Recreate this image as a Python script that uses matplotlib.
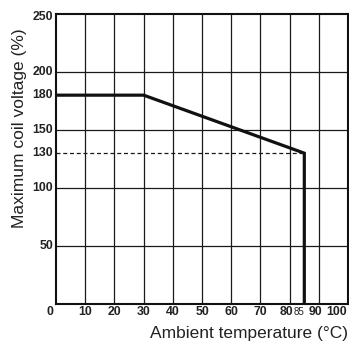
import matplotlib.pyplot as plt
from matplotlib.transforms import offset_copy

plt.rcParams['font.family'] = ['Liberation Sans', 'DejaVu Sans']

# derating curve
temp = [0, 30, 85, 85]
voltage = [180, 180, 130, 0]

x_ticks = [10, 20, 30, 40, 50, 60, 70, 80, 85, 90, 100]
x_grid = [10, 20, 30, 40, 50, 60, 70, 80, 90]
y_ticks = [50, 100, 130, 150, 180, 200, 250]
y_grid = [50, 100, 150, 200]

fig = plt.figure(figsize=(3.49, 3.45), dpi=100)
ax = fig.add_axes([0.1605, 0.119, 0.837, 0.8405])

for gx in x_grid:
    ax.axvline(gx, color='#1a1a1a', lw=0.9, zorder=1)
for gy in y_grid:
    ax.axhline(gy, color='#1a1a1a', lw=0.9, zorder=1)

# dashed reference at 130 %
ax.plot([0, 85], [130, 130], color='#1a1a1a', lw=0.9, dashes=(3.2, 2.2), zorder=2)
ax.plot(temp, voltage, color='#111111', lw=2.3, solid_joinstyle='miter', zorder=3)

ax.set_xlim(0, 100)
ax.set_ylim(0, 250)
for s in ax.spines.values():
    s.set_linewidth(1.5)
    s.set_color('#111111')

tick_font = dict(fontweight='bold', fontsize=8.8, color='#222222')

ax.set_xticks(x_ticks)
ax.set_xticklabels([])
ax.set_yticks([])
ax.tick_params(length=0)

# y tick labels (250 sits a little below the top edge)
ytrans = ax.get_yaxis_transform()
for t in y_ticks:
    dy = -3 if t == 250 else 0
    tr = offset_copy(ytrans, fig=fig, x=-3, y=dy, units='dots')
    ax.text(0, t, str(t), transform=tr, ha='right', va='center', **tick_font)

# x tick labels drawn by hand so the crowded ones near 85 can be nudged
nudge = {80: -3.5, 85: -5.5, 90: -3, 100: -12}
xtrans = ax.get_xaxis_transform()
for t in x_ticks:
    tr = offset_copy(xtrans, fig=fig, x=nudge.get(t, 0), y=-8.5, units='dots')
    if t == 85:
        ax.text(t, 0, str(t), transform=tr, ha='center', va='center',
                fontsize=7, color='#222222')
    else:
        ax.text(t, 0, str(t), transform=tr, ha='center', va='center', **tick_font)

# shared origin label
ax.text(0, 0, '0', transform=offset_copy(xtrans, fig=fig, x=-6.5, y=-8.5, units='dots'),
        ha='center', va='center', **tick_font)

ax.set_ylabel('Maximum coil voltage (%)', fontsize=12.5, color='#222222')
ax.yaxis.set_label_coords(-0.098, 0.605)
ax.set_xlabel('Ambient temperature (°C)', fontsize=12.5, color='#222222')
ax.xaxis.set_label_coords(1.0, -0.075)
ax.xaxis.label.set_horizontalalignment('right')

plt.savefig('out.png', dpi=100)
